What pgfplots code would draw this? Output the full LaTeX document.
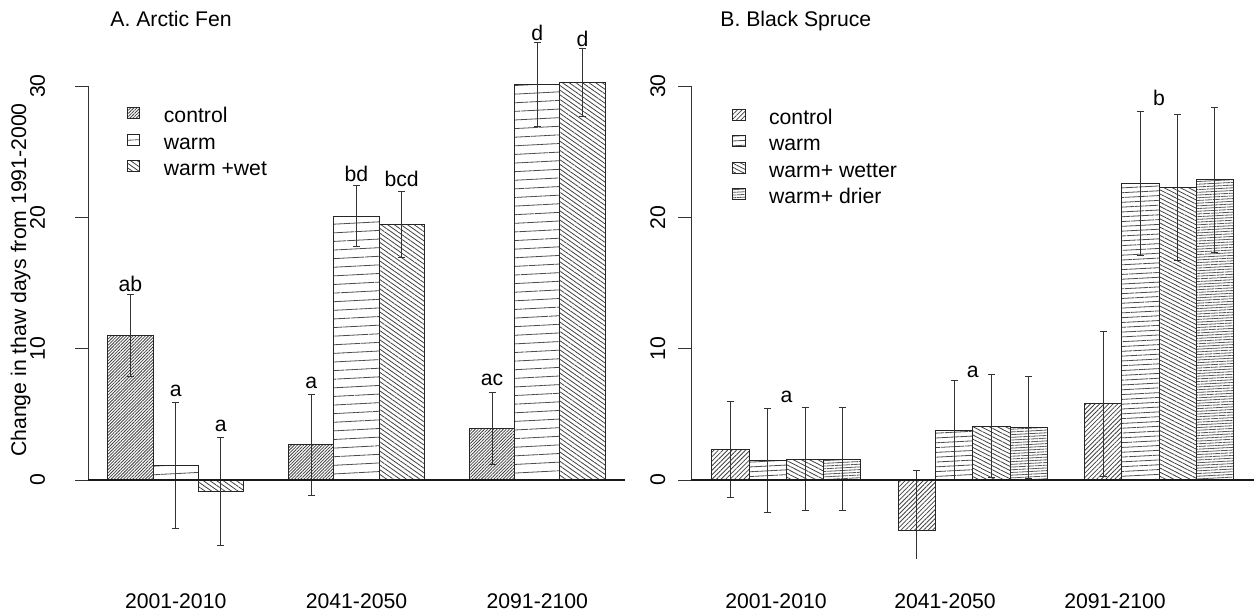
\documentclass[border=0pt]{standalone}
\usepackage{fontspec}
\setmainfont{Liberation Sans}
\usepackage{pgfplots}
\pgfplotsset{compat=1.18}
\usetikzlibrary{patterns.meta}
\begin{document}
\begin{tikzpicture}[font=\fontsize{10.6}{12.7}\selectfont]
\pgfplotsset{
  panel/.style={scale only axis, clip mode=individual, axis line style={draw=none},
    ymax=36.557, ymin=-5.94, height=279pt, anchor=south west,
    ytick={0,10,20,30}, ytick pos=left, xtick pos=bottom,
    ytick align=outside, xtick align=inside, major tick length=6.5pt,
    y tick style={black!80, line width=0.5pt},
    x tick style={draw=none},
    xticklabel style={anchor=base, yshift=-25pt, inner sep=0pt},
    /pgf/number format/assume math mode=true,
    legend cell align=left,
    legend style={draw=none, fill=none, inner sep=0pt, outer sep=0pt, row sep=2.75pt,
      nodes={inner sep=0pt, text height=8pt, text depth=2.5pt}},
  },
  ebar/.style={error bars/y dir=both, error bars/y explicit,
    error bars/error bar style={black!80, line width=0.5pt},
    error bars/error mark options={rotate=90, black!80, line width=0.5pt, mark size=1.75pt}},
  hb/.style={ybar, bar width=1, bar shift=0pt, draw=black!85, line width=0.5pt,
    legend image code/.code={\draw[##1] (0pt,-0.85pt) rectangle (6.3pt,4.65pt); \path (18pt,0pt);}},
}
\useasboundingbox (0,0) rectangle (627.5pt,306pt);

% ---------------- Panel A ----------------
\begin{axis}[panel, at={(44pt,27pt)}, width=268.5pt, xmin=0.56, xmax=12.44,
  yticklabel style={xshift=-15pt, rotate=90, anchor=base, inner sep=0pt},
  xtick={2.5,6.5,10.5}, xticklabels={2001-2010,2041-2050,2091-2100},
  legend style={at={(axis cs:1.42,28.43)}, anchor=north west}]
\addplot[hb, pattern={Lines[angle=45,distance=1.1pt,line width=0.4pt]}, pattern color=black!75, ebar]
  coordinates {(1.5,11.0) +- (0,3.1) (5.5,2.7) +- (0,3.85) (9.5,3.9) +- (0,2.75)};
\addlegendentry{control}
\addplot[hb, pattern={Lines[angle=3,distance=4.3pt,line width=0.4pt]}, pattern color=black!70, ebar]
  coordinates {(2.5,1.1) +- (0,4.8) (6.5,20.1) +- (0,2.3) (10.5,30.1) +- (0,3.2)};
\addlegendentry{warm}
\addplot[hb, pattern={Lines[angle=-35,distance=1.9pt,line width=0.4pt]}, pattern color=black!75, ebar]
  coordinates {(3.5,-0.9) +- (0,4.1) (7.5,19.45) +- (0,2.5) (11.5,30.25) +- (0,2.6)};
\addlegendentry{warm +wet}
\draw[black!80, line width=0.5pt] (axis cs:0.56,0) -- (axis cs:0.56,30);
\draw[black!90, line width=1pt] (axis cs:0.56,0) -- (axis cs:12.44,0);
\node[anchor=base] at (axis cs:1.5,14.34) {ab};
\node[anchor=base] at (axis cs:2.5,6.34) {a};
\node[anchor=base] at (axis cs:3.5,3.68) {a};
\node[anchor=base] at (axis cs:5.5,6.98) {a};
\node[anchor=base] at (axis cs:6.5,22.72) {bd};
\node[anchor=base] at (axis cs:7.5,22.34) {bcd};
\node[anchor=base] at (axis cs:9.5,7.16) {ac};
\node[anchor=base] at (axis cs:10.5,33.51) {d};
\node[anchor=base] at (axis cs:11.5,33.05) {d};
\end{axis}

% ---------------- Panel B ----------------
\begin{axis}[panel, at={(345.55pt,27pt)}, width=281.65pt, xmin=0.44, xmax=15.56,
  yticklabel style={xshift=-6.5pt, rotate=90, anchor=base, inner sep=0pt},
  xtick={2.718,7.255,11.82}, xticklabels={2001-2010,2041-2050,2091-2100},
  legend style={at={(axis cs:1.54,28.32)}, anchor=north west}]
\addplot[hb, pattern={Lines[angle=45,distance=1.6pt,line width=0.4pt]}, pattern color=black!75,
  error bars/y dir=both, error bars/y explicit,
  error bars/error bar style={black!80, line width=0.5pt},
  error bars/error mark options={rotate=90, black!80, line width=0.5pt, mark size=1.75pt}]
  coordinates {(1.5,2.3) += (0,3.65) -= (0,3.65) (6.5,-3.86) += (0,4.55) -= (0,2.4) (11.5,5.8) += (0,5.5) -= (0,5.5)};
\addlegendentry{control}
\addplot[hb, pattern={Lines[angle=3,distance=2.4pt,line width=0.4pt]}, pattern color=black!70, ebar]
  coordinates {(2.5,1.5) +- (0,3.95) (7.5,3.8) +- (0,3.8) (12.5,22.6) +- (0,5.5)};
\addlegendentry{warm}
\addplot[hb, pattern={Lines[angle=-27,distance=1.85pt,line width=0.4pt]}, pattern color=black!75, ebar]
  coordinates {(3.5,1.6) +- (0,3.95) (8.5,4.1) +- (0,3.9) (13.5,22.25) +- (0,5.55)};
\addlegendentry{warm+ wetter}
\addplot[hb, pattern={Lines[angle=3,distance=1.35pt,line width=0.4pt]}, pattern color=black!65, ebar]
  coordinates {(4.5,1.6) +- (0,3.95) (9.5,4.0) +- (0,3.9) (14.5,22.85) +- (0,5.5)};
\addlegendentry{warm+ drier}
\draw[black!80, line width=0.5pt] (axis cs:0.44,0) -- (axis cs:0.44,30);
\draw[black!90, line width=0.6pt] (axis cs:0.44,0) -- (axis cs:15.56,0);
\node[anchor=base] at (axis cs:3,5.94) {a};
\node[anchor=base] at (axis cs:8,7.77) {a};
\node[anchor=base] at (axis cs:13,28.5) {b};
\end{axis}

\node[anchor=base west, inner sep=0pt] at (55pt,292.5pt) {A. Arctic Fen};
\node[anchor=base west, inner sep=0pt] at (360pt,292.5pt) {B. Black Spruce};
\node[rotate=90, anchor=base, inner sep=0pt] at (13pt,166pt) {Change in thaw days from 1991-2000};
\end{tikzpicture}
\end{document}
